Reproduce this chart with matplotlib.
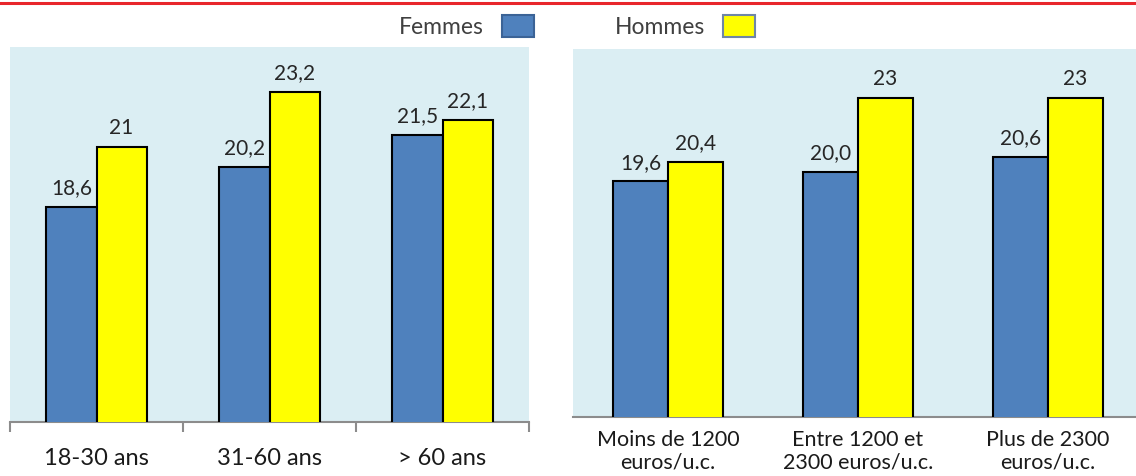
import matplotlib
matplotlib.use("Agg")
import matplotlib.pyplot as plt
from matplotlib.patches import Patch
from matplotlib.lines import Line2D
import numpy as np

plt.rcParams['font.family'] = ['Lato', 'DejaVu Sans']

# age groups
ages = ['18-30 ans', '31-60 ans', '> 60 ans']
femmes_age = [18.6, 20.2, 21.5]
hommes_age = [21, 23.2, 22.1]

# income groups
revenus = ['Moins de 1200\neuros/u.c.', 'Entre 1200 et\n2300 euros/u.c.', 'Plus de 2300\neuros/u.c.']
femmes_rev = [19.6, 20.0, 20.6]
hommes_rev = [20.4, 23, 23]

BLUE = '#4F81BD'
YELLOW = '#FFFF00'
PANEL = '#DBEEF3'
AXIS_GREY = '#8C8C8C'


def fmt(v):
    return str(v).replace('.', ',')


def draw_panel(ax, cats, fem, hom, width, boundary_ticks, label_pad, label_size):
    x = np.arange(len(cats))
    ax.set_facecolor(PANEL)
    b1 = ax.bar(x - width / 2, fem, width, color=BLUE, edgecolor='black', linewidth=1.5, zorder=3)
    b2 = ax.bar(x + width / 2, hom, width, color=YELLOW, edgecolor='black', linewidth=1.5, zorder=3)
    for bars, vals in ((b1, fem), (b2, hom)):
        for r, v in zip(bars, vals):
            ax.annotate(fmt(v), (r.get_x() + r.get_width() / 2, r.get_height()),
                        xytext=(0, 7), textcoords='offset points',
                        ha='center', va='bottom', fontsize=15, color='#262626')
    ax.set_ylim(10, 25)
    ax.set_xlim(-0.5, len(cats) - 0.5)
    ax.set_yticks([])
    for s in ('left', 'right', 'top'):
        ax.spines[s].set_visible(False)
    ax.spines['bottom'].set_color(AXIS_GREY)
    ax.spines['bottom'].set_linewidth(1.5)
    ax.set_xticks(x)
    ax.set_xticklabels(cats, fontsize=label_size, linespacing=1.1, color='#1A1A1A')
    ax.tick_params(axis='x', which='major', length=0, pad=label_pad)
    if boundary_ticks:
        ax.set_xticks(np.arange(len(cats) + 1) - 0.5, minor=True)
        ax.tick_params(axis='x', which='minor', length=7, width=1.5, color=AXIS_GREY)


fig = plt.figure(figsize=(11.36, 4.77), dpi=100)

ax1 = fig.add_axes([10 / 1136, 54 / 477, 519 / 1136, 375 / 477])
draw_panel(ax1, ages, femmes_age, hommes_age, 0.29, True, 18, 17)

ax2 = fig.add_axes([573 / 1136, 59 / 477, 570 / 1136, 368 / 477])
draw_panel(ax2, revenus, femmes_rev, hommes_rev, 0.29, False, 9, 15.5)

# red rule across the top
fig.add_artist(Line2D([0, 1], [1 - 3.5 / 477, 1 - 3.5 / 477], transform=fig.transFigure,
                      color='#E8262B', linewidth=2.2))

handles = [Patch(facecolor=BLUE, edgecolor='#3B6396', linewidth=1.5, label='Femmes'),
           Patch(facecolor=YELLOW, edgecolor='#6F86A6', linewidth=1.5, label='Hommes')]
fig.legend(handles=handles, loc='center', bbox_to_anchor=(577 / 1136, 1 - 27 / 477),
           ncol=2, frameon=False, markerfirst=False, fontsize=16.5,
           handlelength=1.4, handleheight=1.13, handletextpad=0.8, columnspacing=3.5,
           labelcolor='#404040')

fig.savefig('out.png', dpi=100)
